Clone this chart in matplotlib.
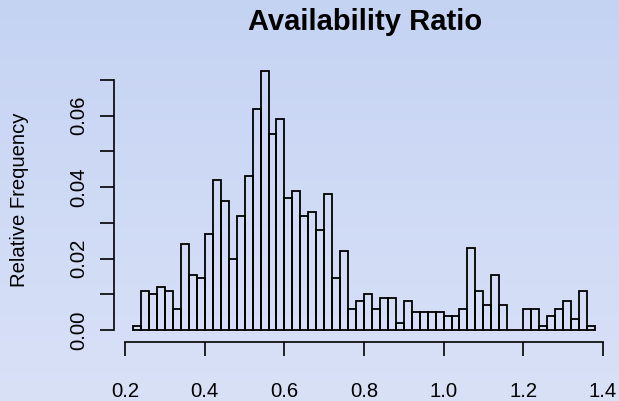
import numpy as np
import matplotlib
matplotlib.use("Agg")
import matplotlib.pyplot as plt
from matplotlib.colors import LinearSegmentedColormap

plt.rcParams['font.family'] = ['Liberation Sans', 'DejaVu Sans']

# histogram of availability ratio, bins of 0.02 starting at 0.22
bin_start = 0.22
bin_width = 0.02
rel_freq = [0.001, 0.011, 0.010, 0.012, 0.011, 0.006, 0.024, 0.0155, 0.0145, 0.027,
            0.042, 0.036, 0.020, 0.032, 0.043, 0.062, 0.0725, 0.055, 0.059, 0.037,
            0.039, 0.032, 0.033, 0.028, 0.038, 0.0145, 0.022, 0.006, 0.008, 0.010,
            0.006, 0.009, 0.009, 0.002, 0.008, 0.005, 0.005, 0.005, 0.005, 0.004,
            0.004, 0.006, 0.023, 0.011, 0.007, 0.0155, 0.007, 0.0, 0.0, 0.006,
            0.006, 0.001, 0.004, 0.006, 0.008, 0.003, 0.011, 0.001]
x_ticks = [0.2, 0.4, 0.6, 0.8, 1.0, 1.2, 1.4]
y_ticks = [0.00, 0.01, 0.02, 0.03, 0.04, 0.05, 0.06, 0.07]
y_labels = ["0.00", "", "0.02", "", "0.04", "", "0.06", ""]

W, H = 619, 401
fig = plt.figure(figsize=(W / 100, H / 100), dpi=100)

# gradient background
bg = fig.add_axes([0, 0, 1, 1], zorder=-10)
cmap = LinearSegmentedColormap.from_list("bg", ["#c5d3f3", "#d9e1f7"])
bg.imshow(np.linspace(0, 1, 256).reshape(-1, 1), aspect="auto", cmap=cmap,
          extent=[0, 1, 0, 1])
bg.axis("off")

# plot area in pixels
left, right, top, bottom = 114.3, 615, 60, 342
ax = fig.add_axes([left / W, 1 - bottom / H, (right - left) / W, (bottom - top) / H])
ax.set_facecolor("none")

lefts = bin_start + bin_width * np.arange(len(rel_freq))
ax.bar(lefts, rel_freq, width=bin_width, align="edge", fill=False,
       edgecolor="black", linewidth=1.3)

ax.set_xlim(0.17235, 1.4310)
ax.set_ylim(-0.00336, 0.07559)

for s in ["top", "right"]:
    ax.spines[s].set_visible(False)
ax.spines["left"].set_bounds(0, 0.07)
ax.spines["bottom"].set_bounds(0.2, 1.4)
for s in ["left", "bottom"]:
    ax.spines[s].set_linewidth(1.2)

ax.set_xticks(x_ticks, [f"{v:.1f}" for v in x_ticks])
ax.set_yticks(y_ticks, y_labels)
ax.tick_params(axis="both", length=10, width=1.2, labelsize=14.6)
ax.tick_params(axis="x", pad=19)
ax.tick_params(axis="y", pad=9)
for lab in ax.get_yticklabels():
    lab.set_rotation(90)
    lab.set_va("center")

ax.set_ylabel("Relative Frequency", fontsize=14.6, va="center")
ax.yaxis.set_label_coords((20 - left) / (right - left), (bottom - 200) / (bottom - top))

fig.text(365 / W, 1 - 30 / H, "Availability Ratio", ha="center", va="baseline",
         fontsize=21, fontweight="bold")

fig.savefig("out.png", dpi=100)
